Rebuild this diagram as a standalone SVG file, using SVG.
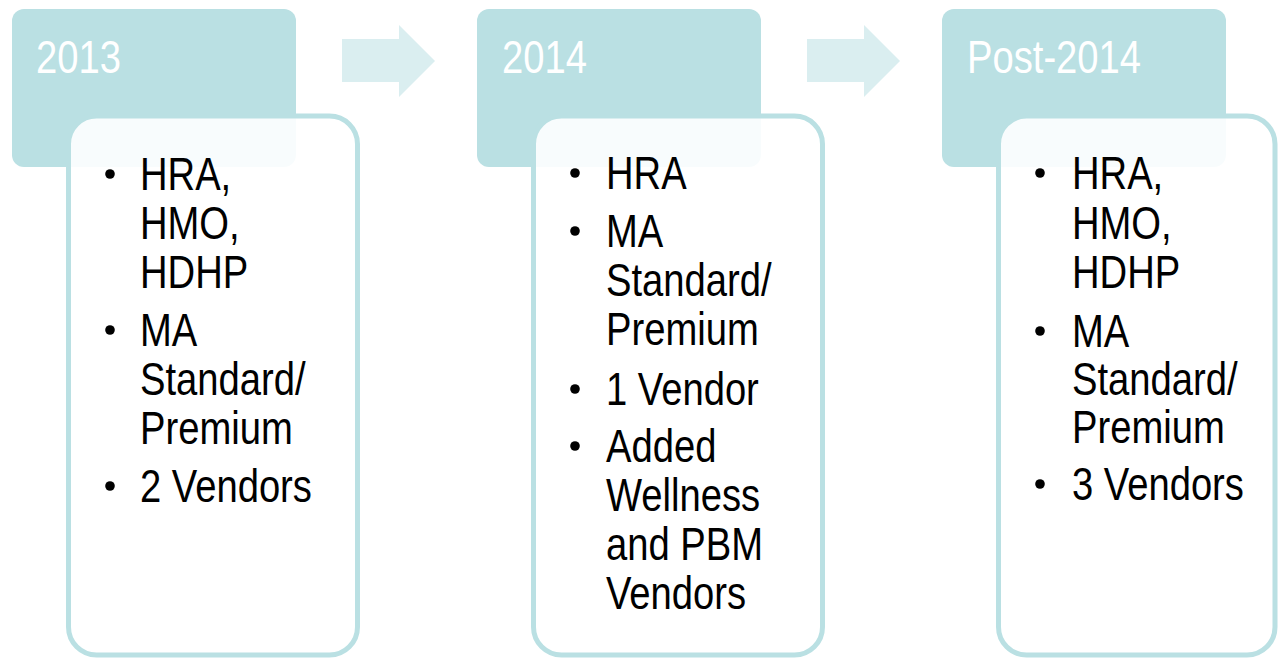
<svg xmlns="http://www.w3.org/2000/svg" width="1278" height="660" viewBox="0 0 1278 660">
<style>
.hdr{fill:#BAE0E3}
.card{fill:#FFFFFF;fill-opacity:0.9;stroke:#BAE0E3;stroke-width:5}
.arrow{fill:#DAEEF0}
.ht{font-family:"Liberation Sans",Arial,sans-serif;font-size:46px;fill:#FFFFFF}
.bt{font-family:"Liberation Sans",Arial,sans-serif;font-size:46px;fill:#000000}
.dot{fill:#000000}
</style>
<rect width="1278" height="660" fill="#FFFFFF"/>
<g id="connectors">
<polygon class="arrow" points="342,39 399,39 399,25 435,61 399,97 399,82 342,82"/>
<polygon class="arrow" points="807,39 864,39 864,25 900,61 864,97 864,82 807,82"/>
</g>
<g id="node-2013">
<rect class="hdr" x="12" y="9" width="284" height="158" rx="12"/>
<g transform="translate(36 0) scale(0.83 1)"><text class="ht" x="0" y="73">2013</text></g>
<rect class="card" x="68.5" y="116" width="289" height="539" rx="28"/>
<circle class="dot" cx="110" cy="174" r="4.8"/>
<circle class="dot" cx="110" cy="330" r="4.8"/>
<circle class="dot" cx="110" cy="486" r="4.8"/>
<g transform="translate(140 0) scale(0.83 1)"><text class="bt"><tspan x="0" y="190">HRA,</tspan><tspan x="0" y="239">HMO,</tspan><tspan x="0" y="288">HDHP</tspan><tspan x="0" y="346">MA</tspan><tspan x="0" y="395">Standard/</tspan><tspan x="0" y="444">Premium</tspan><tspan x="0" y="502">2 Vendors</tspan></text></g>
</g>
<g id="node-2014">
<rect class="hdr" x="477" y="9" width="284" height="158" rx="12"/>
<g transform="translate(502 0) scale(0.83 1)"><text class="ht" x="0" y="73">2014</text></g>
<rect class="card" x="533.5" y="116" width="289" height="539" rx="28"/>
<circle class="dot" cx="575" cy="173" r="4.8"/>
<circle class="dot" cx="575" cy="231" r="4.8"/>
<circle class="dot" cx="575" cy="389" r="4.8"/>
<circle class="dot" cx="575" cy="446" r="4.8"/>
<g transform="translate(606 0) scale(0.83 1)"><text class="bt"><tspan x="0" y="189">HRA</tspan><tspan x="0" y="247">MA</tspan><tspan x="0" y="296">Standard/</tspan><tspan x="0" y="345">Premium</tspan><tspan x="0" y="405">1 Vendor</tspan><tspan x="0" y="462">Added</tspan><tspan x="0" y="511">Wellness</tspan><tspan x="0" y="560">and PBM</tspan><tspan x="0" y="609">Vendors</tspan></text></g>
</g>
<g id="node-post-2014">
<rect class="hdr" x="942" y="9" width="284" height="158" rx="12"/>
<g transform="translate(967 0) scale(0.83 1)"><text class="ht" x="0" y="73">Post-2014</text></g>
<rect class="card" x="998.5" y="116" width="276.5" height="539" rx="28"/>
<circle class="dot" cx="1040" cy="173" r="4.8"/>
<circle class="dot" cx="1040" cy="331" r="4.8"/>
<circle class="dot" cx="1040" cy="484" r="4.8"/>
<g transform="translate(1072 0) scale(0.83 1)"><text class="bt"><tspan x="0" y="189">HRA,</tspan><tspan x="0" y="239">HMO,</tspan><tspan x="0" y="288">HDHP</tspan><tspan x="0" y="347">MA</tspan><tspan x="0" y="395">Standard/</tspan><tspan x="0" y="443">Premium</tspan><tspan x="0" y="500">3 Vendors</tspan></text></g>
</g>
</svg>
